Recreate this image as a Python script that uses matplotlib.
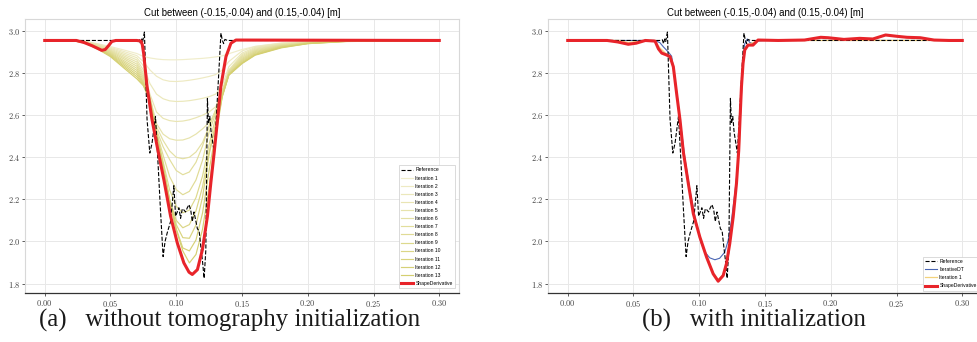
import matplotlib
matplotlib.use('Agg')
import matplotlib.pyplot as plt
import matplotlib.ticker as ticker

plt.rcParams['mathtext.fontset'] = 'cm'

TITLE = 'Cut between (-0.15,-0.04) and (0.15,-0.04) [m]'
x_ticks = [0.00, 0.05, 0.10, 0.15, 0.20, 0.25, 0.30]
y_ticks = [1.8, 2.0, 2.2, 2.4, 2.6, 2.8, 3.0]

# reference profile (dashed, same in both panels)
ref_x = [0.000, 0.0700, 0.0720, 0.0728, 0.0738, 0.0745, 0.0758, 0.0778, 0.0799, 0.0816,
         0.0829, 0.0842, 0.0860, 0.0880, 0.0900, 0.0915, 0.0931, 0.0957, 0.0982, 0.0995,
         0.1008, 0.1020, 0.1033, 0.1046, 0.1058, 0.1071, 0.1084, 0.1097, 0.1110, 0.1122,
         0.1135, 0.1148, 0.1161, 0.1174, 0.1186, 0.1199, 0.1212, 0.1225, 0.1237, 0.1245,
         0.1255, 0.1265, 0.1275, 0.1290, 0.1340, 0.1350, 0.1360, 0.1370, 0.1390, 0.3000]
ref_y = [2.955, 2.955, 2.958, 2.940, 2.962, 2.950, 2.995, 2.580, 2.420, 2.467,
         2.530, 2.594, 2.390, 2.150, 1.928, 2.000, 2.040, 2.095, 2.265, 2.120,
         2.140, 2.160, 2.110, 2.155, 2.150, 2.140, 2.160, 2.175, 2.150, 2.095,
         2.140, 2.100, 2.060, 2.050, 1.980, 1.910, 1.825, 1.960, 2.680, 2.560,
         2.594, 2.520, 2.480, 2.420, 2.990, 2.957, 2.940, 2.960, 2.955, 2.955]

# panel (a): shape derivative iterations on a common x grid
iter_x = [0.000, 0.020, 0.030, 0.040, 0.050, 0.060, 0.070, 0.075, 0.080, 0.085,
          0.090, 0.095, 0.100, 0.105, 0.110, 0.115, 0.120, 0.125, 0.130, 0.135,
          0.140, 0.150, 0.160, 0.180, 0.200, 0.230, 0.300]
iter_1 = [2.955, 2.955, 2.952, 2.940, 2.926, 2.910, 2.893, 2.879, 2.872, 2.867,
          2.864, 2.863, 2.863, 2.864, 2.866, 2.868, 2.870, 2.873, 2.877, 2.882,
          2.892, 2.912, 2.927, 2.943, 2.951, 2.955, 2.955]
iter_2 = [2.955, 2.955, 2.951, 2.938, 2.922, 2.903, 2.883, 2.855, 2.815, 2.785,
          2.768, 2.761, 2.760, 2.762, 2.766, 2.771, 2.777, 2.784, 2.793, 2.815,
          2.855, 2.905, 2.926, 2.942, 2.950, 2.955, 2.955]
iter_3 = [2.955, 2.955, 2.951, 2.936, 2.918, 2.896, 2.873, 2.835, 2.750, 2.700,
          2.678, 2.668, 2.665, 2.666, 2.669, 2.674, 2.680, 2.688, 2.700, 2.740,
          2.830, 2.895, 2.922, 2.940, 2.949, 2.954, 2.955]
iter_4 = [2.955, 2.955, 2.950, 2.934, 2.914, 2.889, 2.863, 2.815, 2.700, 2.615,
          2.585, 2.574, 2.570, 2.572, 2.578, 2.588, 2.600, 2.615, 2.640, 2.715,
          2.815, 2.888, 2.918, 2.938, 2.948, 2.954, 2.955]
iter_5 = [2.955, 2.955, 2.949, 2.932, 2.910, 2.882, 2.853, 2.800, 2.685, 2.560,
          2.510, 2.488, 2.481, 2.482, 2.492, 2.510, 2.535, 2.565, 2.610, 2.700,
          2.810, 2.882, 2.914, 2.936, 2.947, 2.953, 2.955]
iter_6 = [2.955, 2.955, 2.949, 2.930, 2.906, 2.875, 2.843, 2.790, 2.685, 2.545,
          2.480, 2.430, 2.400, 2.393, 2.400, 2.425, 2.470, 2.545, 2.625, 2.715,
          2.808, 2.876, 2.910, 2.934, 2.946, 2.953, 2.955]
iter_7 = [2.955, 2.955, 2.948, 2.928, 2.902, 2.868, 2.833, 2.780, 2.680, 2.530,
          2.450, 2.389, 2.337, 2.317, 2.330, 2.376, 2.454, 2.550, 2.625, 2.712,
          2.805, 2.870, 2.906, 2.932, 2.945, 2.953, 2.955]
iter_8 = [2.955, 2.955, 2.947, 2.925, 2.898, 2.860, 2.823, 2.770, 2.678, 2.522,
          2.410, 2.308, 2.246, 2.222, 2.238, 2.292, 2.386, 2.520, 2.610, 2.710,
          2.800, 2.865, 2.902, 2.930, 2.944, 2.952, 2.955]
iter_9 = [2.955, 2.955, 2.947, 2.923, 2.894, 2.853, 2.813, 2.760, 2.676, 2.518,
          2.380, 2.244, 2.167, 2.136, 2.149, 2.208, 2.311, 2.460, 2.590, 2.700,
          2.797, 2.860, 2.898, 2.928, 2.943, 2.952, 2.955]
iter_10 = [2.955, 2.955, 2.946, 2.921, 2.890, 2.846, 2.803, 2.755, 2.674, 2.515,
           2.365, 2.200, 2.100, 2.065, 2.080, 2.145, 2.260, 2.425, 2.560, 2.695,
           2.795, 2.855, 2.894, 2.926, 2.942, 2.952, 2.955]
iter_11 = [2.955, 2.955, 2.945, 2.919, 2.886, 2.839, 2.793, 2.750, 2.672, 2.512,
           2.360, 2.195, 2.080, 2.018, 2.015, 2.078, 2.211, 2.414, 2.550, 2.692,
           2.793, 2.850, 2.890, 2.924, 2.941, 2.951, 2.955]
iter_12 = [2.955, 2.955, 2.945, 2.917, 2.882, 2.832, 2.783, 2.745, 2.670, 2.510,
           2.355, 2.190, 2.060, 1.969, 1.955, 2.007, 2.135, 2.337, 2.520, 2.690,
           2.791, 2.847, 2.887, 2.922, 2.940, 2.951, 2.955]
iter_13 = [2.955, 2.955, 2.944, 2.915, 2.878, 2.825, 2.773, 2.740, 2.668, 2.508,
           2.350, 2.188, 2.055, 1.955, 1.898, 1.938, 2.058, 2.258, 2.500, 2.688,
           2.790, 2.845, 2.885, 2.920, 2.940, 2.950, 2.955]
iterations = [iter_1, iter_2, iter_3, iter_4, iter_5, iter_6, iter_7,
              iter_8, iter_9, iter_10, iter_11, iter_12, iter_13]

shape_a_x = [0.000, 0.024, 0.030, 0.036, 0.040, 0.0434, 0.0460, 0.0485, 0.0510, 0.0540,
             0.0700, 0.0732, 0.0742, 0.0752, 0.0778, 0.0816, 0.0855, 0.0906, 0.0957, 0.1008,
             0.1058, 0.1097, 0.1122, 0.1161, 0.1199, 0.1237, 0.1263, 0.1288, 0.1314, 0.1339,
             0.1378, 0.1416, 0.1454, 0.3000]
shape_a_y = [2.955, 2.955, 2.945, 2.930, 2.918, 2.908, 2.912, 2.930, 2.950, 2.955,
             2.955, 2.952, 2.935, 2.894, 2.736, 2.578, 2.451, 2.293, 2.120, 1.993,
             1.898, 1.854, 1.843, 1.866, 1.961, 2.119, 2.278, 2.420, 2.578, 2.736,
             2.878, 2.942, 2.957, 2.955]

# panel (b): tomography initialisation, first iteration and final result
dt_x = [0.000, 0.0660, 0.0700, 0.0727, 0.0765, 0.0790, 0.0810, 0.0835, 0.0860, 0.0890,
        0.0930, 0.0970, 0.1016, 0.1043, 0.1080, 0.1119, 0.1155, 0.1194, 0.1220, 0.1245,
        0.1270, 0.1295, 0.1310, 0.1325, 0.1335, 0.1346, 0.1365, 0.1385, 0.1410, 0.1435,
        0.1500, 0.3000]
dt_y = [2.955, 2.955, 2.945, 2.925, 2.900, 2.880, 2.800, 2.680, 2.550, 2.400,
        2.240, 2.110, 1.990, 1.950, 1.922, 1.913, 1.920, 1.949, 2.005, 2.100,
        2.227, 2.370, 2.550, 2.750, 2.880, 2.940, 2.962, 2.945, 2.940, 2.952,
        2.955, 2.955]

it1b_x = [0.000, 0.040, 0.046, 0.060, 0.066, 0.070, 0.075, 0.078, 0.0805, 0.083,
          0.0855, 0.088, 0.092, 0.0955, 0.1005, 0.1056, 0.1106, 0.1144, 0.1182, 0.1207,
          0.1232, 0.1258, 0.1283, 0.1305, 0.132, 0.1335, 0.135, 0.139, 0.145, 0.300]
it1b_y = [2.955, 2.955, 2.945, 2.955, 2.952, 2.920, 2.890, 2.880, 2.830, 2.700,
          2.570, 2.420, 2.270, 2.135, 2.025, 1.930, 1.850, 1.818, 1.842, 1.900,
          1.995, 2.120, 2.280, 2.450, 2.700, 2.850, 2.920, 2.940, 2.955, 2.955]

shape_b_x = [0.000, 0.030, 0.038, 0.046, 0.052, 0.059, 0.0664, 0.0690, 0.0715, 0.0752,
             0.0778, 0.0803, 0.0828, 0.0854, 0.0879, 0.0917, 0.0955, 0.1005, 0.1056, 0.1106,
             0.1144, 0.1182, 0.1207, 0.1232, 0.1258, 0.1283, 0.1300, 0.1310, 0.1321, 0.1333,
             0.1346, 0.1371, 0.1409, 0.1447, 0.1600, 0.1800, 0.1924, 0.1980, 0.2100, 0.2220,
             0.2320, 0.2417, 0.2500, 0.2580, 0.2680, 0.2785, 0.2900, 0.3000]
shape_b_y = [2.955, 2.955, 2.948, 2.937, 2.942, 2.955, 2.952, 2.915, 2.895, 2.886,
             2.878, 2.830, 2.703, 2.576, 2.425, 2.275, 2.132, 2.020, 1.925, 1.846,
             1.811, 1.838, 1.894, 1.990, 2.116, 2.275, 2.430, 2.580, 2.735, 2.846,
             2.910, 2.933, 2.933, 2.957, 2.955, 2.957, 2.970, 2.968, 2.960, 2.965,
             2.962, 2.981, 2.975, 2.970, 2.968, 2.957, 2.955, 2.955]

# pale yellow -> khaki for the successive iterations
iter_colors = ['#f0edcb', '#eeeac3', '#ebe8bb', '#e9e5b3', '#e7e3ac', '#e4e0a4',
               '#e2de9c', '#e0db95', '#ddd98d', '#dbd686', '#d9d47e', '#d6d177',
               '#d4cf70']


def style_axes(ax):
    ax.set_xlim(-0.015, 0.315)
    ax.set_ylim(1.755, 3.057)
    ax.set_xticks(x_ticks)
    ax.set_yticks(y_ticks)
    ax.xaxis.set_major_formatter(ticker.FuncFormatter(lambda v, p: r'$%.2f$' % v))
    ax.yaxis.set_major_formatter(ticker.FuncFormatter(lambda v, p: r'$%.1f$' % v))
    ax.tick_params(labelsize=6, length=2, width=0.6, pad=1.5, colors='#444444')
    ax.grid(True, color='#e8e8e8', linewidth=0.7)
    ax.set_axisbelow(True)
    for side in ['left', 'top', 'right']:
        ax.spines[side].set_color('#d8d8d8')
        ax.spines[side].set_linewidth(0.8)
    ax.spines['bottom'].set_color('#333333')
    ax.spines['bottom'].set_linewidth(0.9)
    ax.set_title(TITLE, fontsize=6.9, pad=2.5, family='Liberation Sans')


def add_legend(ax, anchor, loc):
    leg = ax.legend(loc=loc, bbox_to_anchor=anchor, borderaxespad=0,
                    prop={'family': 'Liberation Sans', 'size': 3.6},
                    handlelength=2.4, handletextpad=0.5, labelspacing=0.62,
                    borderpad=0.45, fancybox=False, framealpha=1)
    leg.get_frame().set_edgecolor('#cccccc')
    leg.get_frame().set_linewidth(0.5)


fig = plt.figure(figsize=(9.77, 3.42), dpi=100)
ax1 = fig.add_axes([25 / 977, 49 / 342, 434 / 977, 274 / 342])
ax2 = fig.add_axes([548 / 977, 49 / 342, 434 / 977, 274 / 342])

# (a) without tomography initialization
ax1.plot(ref_x, ref_y, '--', color='black', lw=0.8, label='Reference', zorder=4)
for i, ys in enumerate(iterations):
    ax1.plot(iter_x, ys, color=iter_colors[i], lw=0.85, label='Iteration %d' % (i + 1), zorder=3)
ax1.plot(shape_a_x, shape_a_y, color='#e8242a', lw=2.2, label='ShapeDerivative', zorder=5)
style_axes(ax1)
add_legend(ax1, (0.991, 0.018), 'lower right')

# (b) with initialization
ax2.plot(ref_x, ref_y, '--', color='black', lw=0.8, label='Reference', zorder=4)
ax2.plot(dt_x, dt_y, color='#4a66b4', lw=0.8, label='IterativeDT', zorder=3)
ax2.plot(it1b_x, it1b_y, color='#f3d27c', lw=0.9, label='Iteration 1', zorder=3)
ax2.plot(shape_b_x, shape_b_y, color='#e8242a', lw=2.2, label='ShapeDerivative', zorder=5)
style_axes(ax2)
add_legend(ax2, ((922.7 - 548) / 434, 0.009), 'lower left')

fig.text(230 / 977, 15 / 342, '(a)   without tomography initialization',
         family='Liberation Serif', fontsize=17.9, ha='center', va='baseline', color='#1a1a1a')
fig.text(754 / 977, 15 / 342, '(b)   with initialization',
         family='Liberation Serif', fontsize=17.9, ha='center', va='baseline', color='#1a1a1a')

fig.savefig('out.png', dpi=100, facecolor='white')
